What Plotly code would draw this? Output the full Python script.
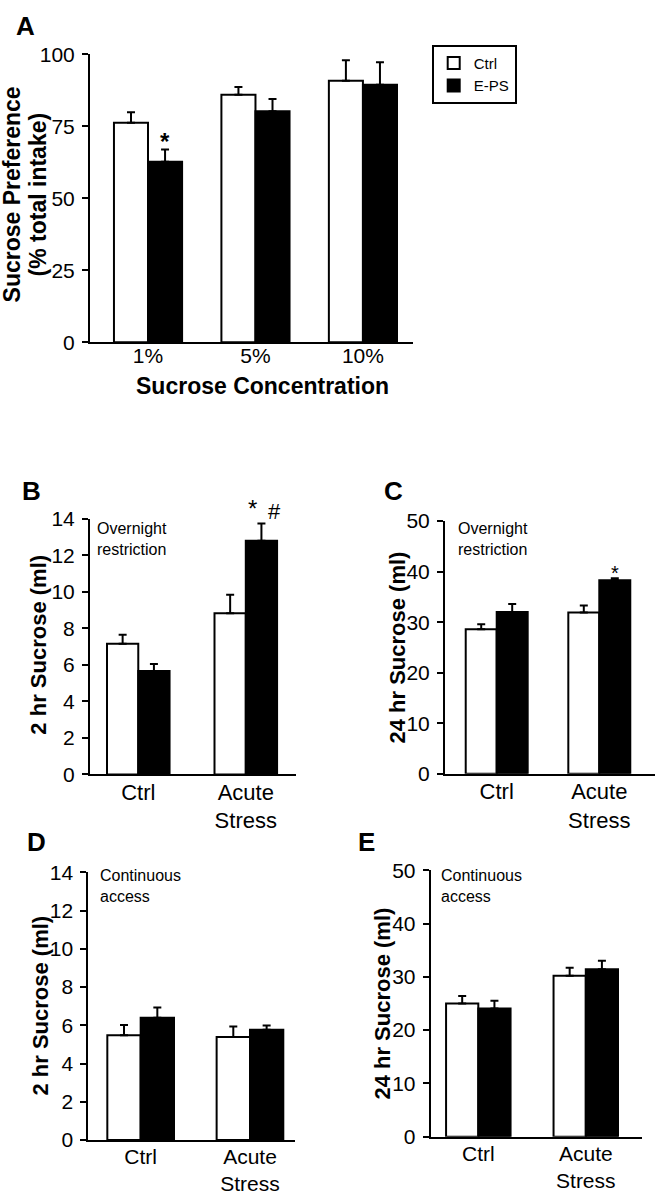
import plotly.graph_objects as go

# ---------------- data ----------------
conc_labels = ["1%", "5%", "10%"]
ctrl_A = [76.3, 86.0, 90.9]
ctrl_A_err = [3.6, 2.7, 7.1]
eps_A = [62.7, 80.3, 89.5]
eps_A_err = [4.3, 4.2, 7.8]

stress_labels = ["Ctrl", "Acute<br>Stress"]
ctrl_B = [7.15, 8.82]
ctrl_B_err = [0.50, 1.02]
eps_B = [5.66, 12.8]
eps_B_err = [0.38, 0.94]

ctrl_C = [28.6, 31.9]
ctrl_C_err = [1.0, 1.4]
eps_C = [32.0, 38.3]
eps_C_err = [1.6, 0.4]

ctrl_D = [5.48, 5.39]
ctrl_D_err = [0.54, 0.55]
eps_D = [6.40, 5.77]
eps_D_err = [0.53, 0.22]

ctrl_E = [25.0, 30.2]
ctrl_E_err = [1.4, 1.5]
eps_E = [24.05, 31.4]
eps_E_err = [1.45, 1.6]

W, H = 657, 1199
FONT = "Liberation Sans, Arial, Helvetica, sans-serif"

fig = go.Figure()

# panel geometry (pixels) and axis settings
panels = [
    dict(key="", cats=conc_labels, c=ctrl_A, ce=ctrl_A_err, e=eps_A, ee=eps_A_err,
         px=(90, 413), py=(43.3, 336.7), xr=[-0.54, 2.466], bw=0.317,
         yr=[0, 100], tickvals=[0, 25, 50, 75, 100], legend=True, xfs=21, xso=-6),
    dict(key="2", cats=stress_labels, c=ctrl_B, ce=ctrl_B_err, e=eps_B, ee=eps_B_err,
         px=(90, 296), py=(516.7, 777.3), xr=[-0.449, 1.467], bw=0.291,
         yr=[0, 14], tickvals=[0, 2, 4, 6, 8, 10, 12, 14], legend=False, xfs=22, xso=-3),
    dict(key="3", cats=stress_labels, c=ctrl_C, ce=ctrl_C_err, e=eps_C, ee=eps_C_err,
         px=(445, 655), py=(519, 776.7), xr=[-0.504, 1.543], bw=0.302,
         yr=[0, 50], tickvals=[0, 10, 20, 30, 40, 50], legend=False, xfs=22, xso=-3),
    dict(key="4", cats=stress_labels, c=ctrl_D, ce=ctrl_D_err, e=eps_D, ee=eps_D_err,
         px=(88.3, 295), py=(877.3, 1150), xr=[-0.479, 1.412], bw=0.305,
         yr=[0, 14], tickvals=[0, 2, 4, 6, 8, 10, 12, 14], legend=False, xfs=21, xso=-3),
    dict(key="5", cats=stress_labels, c=ctrl_E, ce=ctrl_E_err, e=eps_E, ee=eps_E_err,
         px=(430.7, 642), py=(875, 1146.7), xr=[-0.443, 1.523], bw=0.300,
         yr=[0, 50], tickvals=[0, 10, 20, 30, 40, 50], legend=False, xfs=21, xso=-3),
]

layout_axes = {}
for p in panels:
    k = p["key"]
    xa, ya = "x" + k, "y" + k
    bw = p["bw"]
    fig.add_trace(go.Bar(
        x=p["cats"], y=p["c"], name="Ctrl", xaxis=xa, yaxis=ya,
        width=bw, offset=-bw,
        marker=dict(color="white", line=dict(color="black", width=2)),
        error_y=dict(type="data", array=p["ce"], arrayminus=[0] * len(p["ce"]),
                     symmetric=False, color="black", thickness=2, width=4),
        showlegend=p["legend"], legendgroup="ctrl"))
    fig.add_trace(go.Bar(
        x=p["cats"], y=p["e"], name="E-PS", xaxis=xa, yaxis=ya,
        width=bw, offset=0,
        marker=dict(color="black", line=dict(color="black", width=2)),
        error_y=dict(type="data", array=p["ee"], arrayminus=[0] * len(p["ee"]),
                     symmetric=False, color="black", thickness=2, width=4),
        showlegend=p["legend"], legendgroup="eps"))
    x0, x1 = p["px"]
    y0, y1 = p["py"]
    layout_axes["xaxis" + k] = dict(
        domain=[x0 / W, x1 / W], anchor=ya, type="category",
        categoryorder="array", categoryarray=p["cats"], range=p["xr"],
        showline=True, linecolor="black", linewidth=2, ticks="",
        ticklabelstandoff=p["xso"],
        showgrid=False, zeroline=False, fixedrange=True,
        tickfont=dict(family=FONT, size=p["xfs"], color="black"))
    layout_axes["yaxis" + k] = dict(
        domain=[1 - y1 / H, 1 - y0 / H], anchor=xa, range=p["yr"],
        tickvals=p["tickvals"], showline=True, linecolor="black", linewidth=2,
        ticks="outside", ticklen=6, tickwidth=2, tickcolor="black",
        ticklabelstandoff=3,
        showgrid=False, zeroline=False, fixedrange=True,
        tickfont=dict(family=FONT, size=21, color="black"))

annotations = []

def px_ann(text, x, y, size, bold=False, angle=0, xanchor="center", yanchor="middle", align="center"):
    annotations.append(dict(
        text=f"<b>{text}</b>" if bold else text, x=x / W, y=1 - y / H,
        xref="paper", yref="paper", showarrow=False, textangle=angle,
        xanchor=xanchor, yanchor=yanchor, align=align,
        font=dict(family=FONT, size=size, color="black")))

# panel letters
px_ann("A", 25, 14, 26, bold=True)
px_ann("B", 31, 488, 26, bold=True)
px_ann("C", 393, 488, 26, bold=True)
px_ann("D", 36, 846, 26, bold=True)
px_ann("E", 366, 846, 26, bold=True)

# y-axis titles
px_ann("Sucrose Preference", 12, 186, 23, bold=True, angle=-90)
px_ann("(% total intake)", 38, 186, 23, bold=True, angle=-90)
px_ann("2 hr Sucrose (ml)", 39, 645, 22, bold=True, angle=-90)
px_ann("24 hr Sucrose (ml)", 398, 648, 22, bold=True, angle=-90)
px_ann("2 hr Sucrose (ml)", 41, 1013, 22, bold=True, angle=-90)
px_ann("24 hr Sucrose (ml)", 383, 1011, 22, bold=True, angle=-90)

# x-axis title panel A
px_ann("Sucrose Concentration", 262, 381, 23, bold=True)

# condition notes
px_ann("Overnight<br>restriction", 95, 516, 16, xanchor="left", yanchor="top", align="left")
px_ann("Overnight<br>restriction", 455.5, 516, 16, xanchor="left", yanchor="top", align="left")
px_ann("Continuous<br>access", 97.5, 870, 16, xanchor="left", yanchor="top", align="left")
px_ann("Continuous<br>access", 438.5, 870, 16, xanchor="left", yanchor="top", align="left")

# significance marks, anchored to the E-PS error-bar tops
def data_ann(text, axis_key, cat_index, yval, size, xshift=0, yshift=0, bold=False):
    annotations.append(dict(
        text=f"<b>{text}</b>" if bold else text,
        x=cat_index, y=yval, xref="x" + axis_key, yref="y" + axis_key,
        showarrow=False, xanchor="center", yanchor="bottom",
        xshift=xshift, yshift=yshift,
        font=dict(family=FONT, size=size, color="black")))

data_ann("*", "", 0 + panels[0]["bw"] / 2, eps_A[0] + eps_A_err[0], 24, yshift=-8, bold=True)
data_ann("*", "2", 1 + panels[1]["bw"] / 2, eps_B[1] + eps_B_err[1], 24, xshift=-9, yshift=0)
data_ann("#", "2", 1 + panels[1]["bw"] / 2, eps_B[1] + eps_B_err[1], 22, xshift=13, yshift=-2)
data_ann("*", "3", 1 + panels[2]["bw"] / 2, eps_C[1] + eps_C_err[1], 20, yshift=-8)

fig.update_layout(
    width=W, height=H, autosize=False,
    margin=dict(l=0, r=0, t=0, b=0),
    paper_bgcolor="white", plot_bgcolor="white",
    barmode="overlay",
    showlegend=True,
    legend=dict(x=431.7 / W, y=1 - 33.3 / H, xanchor="left", yanchor="top",
                bordercolor="black", borderwidth=2, bgcolor="white",
                font=dict(family=FONT, size=15, color="black"),
                itemwidth=30, tracegroupgap=0),
    annotations=annotations,
    **layout_axes,
)

fig.write_html("out.html", config={"displayModeBar": False},
               post_script="document.body.style.margin='0px';")
